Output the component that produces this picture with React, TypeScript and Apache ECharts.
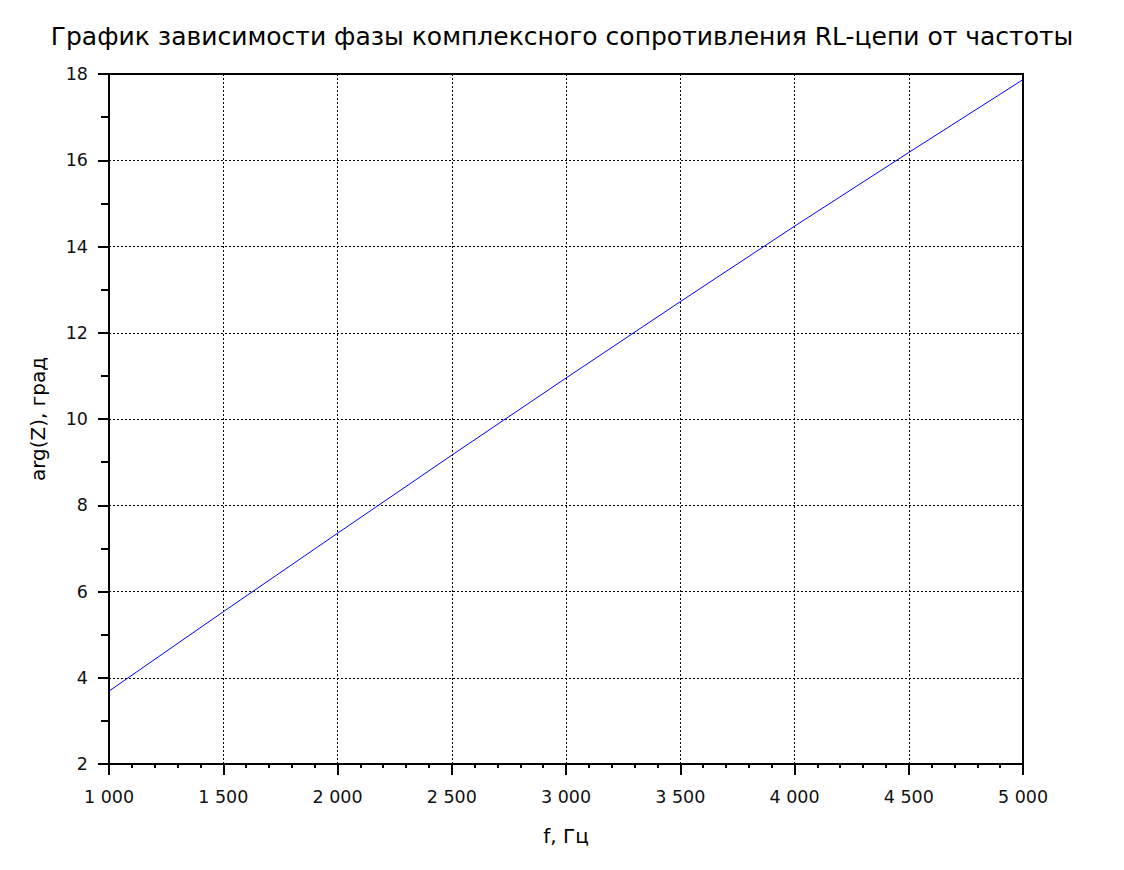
import React, { useEffect, useRef } from "react";
import * as echarts from "echarts";

const titleText = "График зависимости фазы комплексного сопротивления RL-цепи от частоты";
const xName = "f, Гц";
const yName = "arg(Z), град";
const freq = [1000, 1500, 2000, 2500, 3000, 3500, 4000, 4500, 5000];
const phase = [3.69, 5.53, 7.35, 9.16, 10.95, 12.72, 14.47, 16.18, 17.87];

const fmtX = (v: number) => {
  if (v >= 1000) return Math.floor(v / 1000) + " " + String(v % 1000).padStart(3, "0");
  return String(v);
};

const FONT = "DejaVu Sans, Liberation Sans, Arial, sans-serif";

export default function App() {
  const ref = useRef<HTMLDivElement>(null);
  useEffect(() => {
    if (!ref.current) return;
    const chart = echarts.init(ref.current, undefined, { renderer: "svg" });
    chart.setOption({
      animation: false,
      backgroundColor: "#ffffff",
      title: {
        text: titleText,
        left: "center",
        top: 19,
        textStyle: { fontFamily: FONT, fontSize: 25, fontWeight: "normal", color: "#000" },
      },
      grid: {
        left: 109,
        right: 101,
        top: 74,
        bottom: 106,
        show: true,
        borderColor: "#000",
        borderWidth: 2,
      },
      xAxis: {
        type: "value",
        min: 1000,
        max: 5000,
        interval: 500,
        name: xName,
        nameLocation: "middle",
        nameGap: 62,
        nameTextStyle: { fontFamily: FONT, fontSize: 20, color: "#000" },
        axisLine: { show: true, lineStyle: { color: "#000", width: 2 } },
        axisTick: { show: true, length: 11, lineStyle: { color: "#000", width: 2 } },
        minorTick: { show: true, splitNumber: 5, length: 4, lineStyle: { color: "#000", width: 2 } },
        axisLabel: { formatter: fmtX, fontFamily: FONT, fontSize: 17.5, color: "#111", margin: 24 },
        splitLine: { show: true, lineStyle: { color: "#000", width: 1, type: [2, 2] } },
      },
      yAxis: {
        type: "value",
        min: 2,
        max: 18,
        interval: 2,
        name: yName,
        nameLocation: "middle",
        nameGap: 61,
        nameTextStyle: { fontFamily: FONT, fontSize: 20, color: "#000" },
        axisLine: { show: true, lineStyle: { color: "#000", width: 2 } },
        axisTick: { show: true, length: 11, lineStyle: { color: "#000", width: 2 } },
        minorTick: { show: true, splitNumber: 2, length: 8, lineStyle: { color: "#000", width: 2 } },
        axisLabel: { fontFamily: FONT, fontSize: 17.5, color: "#111", margin: 21 },
        splitLine: { show: true, lineStyle: { color: "#000", width: 1, type: [2, 2] } },
      },
      series: [
        {
          type: "line",
          data: freq.map((f, i) => [f, phase[i]]),
          showSymbol: false,
          symbol: "none",
          lineStyle: { color: "#0000ff", width: 1 },
        },
      ],
    });
    return () => chart.dispose();
  }, []);
  return (
    <div
      ref={ref}
      style={{ position: "fixed", left: 0, top: 0, width: 1124, height: 870, background: "#fff" }}
    />
  );
}
